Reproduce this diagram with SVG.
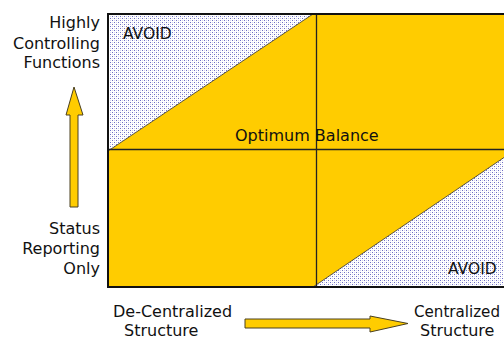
<svg xmlns="http://www.w3.org/2000/svg" width="504" height="339" viewBox="0 0 504 339">
  <defs>
    <pattern id="dots" x="0" y="0" width="4" height="4" patternUnits="userSpaceOnUse">
      <rect width="4" height="4" fill="#ffffff"/>
      <rect x="0" y="0" width="1" height="1" fill="#6e6ec4"/>
      <rect x="2" y="2" width="1" height="1" fill="#6e6ec4"/>
      <rect x="2" y="0" width="1" height="1" fill="#d4d4ee"/>
      <rect x="0" y="2" width="1" height="1" fill="#d4d4ee"/>
    </pattern>
    <style>
      .lbl { font-family: "DejaVu Sans", Verdana, sans-serif; font-size: 16px; fill: #111; }
      .avoid { font-family: "DejaVu Sans", Verdana, sans-serif; font-size: 15.5px; fill: #111; }
      .arrow { fill: #FFCC00; stroke: #4a4020; stroke-width: 1; }
      .grid { stroke: #222; stroke-width: 1.3; fill: none; }
    </style>
  </defs>
  <rect width="504" height="339" fill="#ffffff"/>

  <g id="chart">
    <rect x="108" y="14" width="410" height="273" fill="url(#dots)"/>
    <polygon points="108,151 313,14 518,14 518,148 313,287 108,287" fill="#FFCC00" stroke="#333" stroke-width="0.8"/>
    <line class="grid" x1="108" y1="149.5" x2="518" y2="149.5"/>
    <line class="grid" x1="316.5" y1="14" x2="316.5" y2="287"/>
    <rect x="108" y="14" width="410" height="273" fill="none" stroke="#111" stroke-width="2"/>
  </g>

  <g id="avoid-top"><text class="avoid" x="123" y="39">AVOID</text></g>
  <g id="avoid-bottom"><text class="avoid" x="448" y="274">AVOID</text></g>
  <g id="optimum"><text class="lbl" x="235" y="141">Optimum Balance</text></g>

  <g id="y-high">
    <text class="lbl" text-anchor="end" x="100" y="28">Highly</text>
    <text class="lbl" text-anchor="end" x="100" y="49">Controlling</text>
    <text class="lbl" text-anchor="end" x="100" y="68">Functions</text>
  </g>
  <g id="y-low">
    <text class="lbl" text-anchor="end" x="100" y="234">Status</text>
    <text class="lbl" text-anchor="end" x="100" y="254">Reporting</text>
    <text class="lbl" text-anchor="end" x="100" y="274">Only</text>
  </g>
  <g id="x-low">
    <text class="lbl" x="113" y="317">De-Centralized</text>
    <text class="lbl" x="124" y="336">Structure</text>
  </g>
  <g id="x-high">
    <text class="lbl" x="414" y="317" textLength="86" lengthAdjust="spacingAndGlyphs">Centralized</text>
    <text class="lbl" x="420" y="336">Structure</text>
  </g>

  <g id="connectors">
    <polygon class="arrow" points="70,207 78,207 78,115 83,115 74,87 66,115 70,115"/>
    <polygon class="arrow" points="245,319 370,319 370,316 408,323.5 370,332 370,328 245,328"/>
  </g>
</svg>
